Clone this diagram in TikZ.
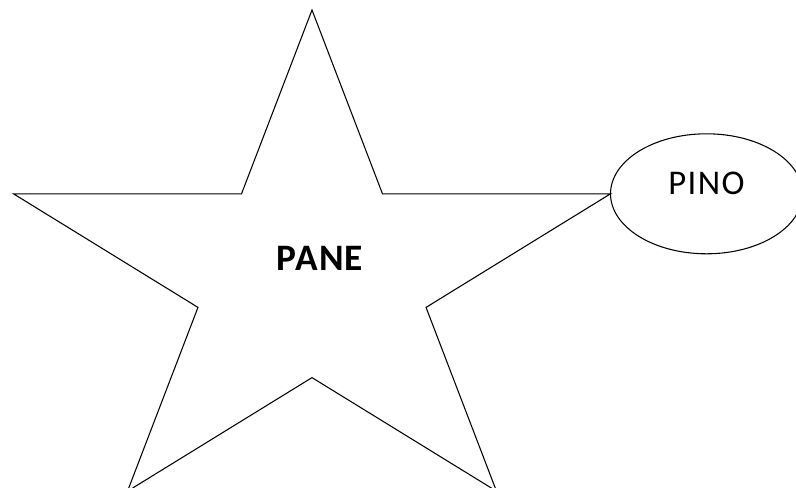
\documentclass[tikz,border=0pt]{standalone}
\usepackage{fontspec}
\setmainfont{Carlito}
\usetikzlibrary{shapes.geometric,positioning}

\begin{document}
\begin{tikzpicture}[x=0.75pt,y=-0.75pt]
\useasboundingbox (0,0) rectangle (796,488);
\tikzset{outline/.style={draw, line width=0.8pt, inner sep=0pt, outer sep=0pt}}

\node[star, star points=5, star point ratio=2.618, minimum size=399pt, xscale=1.18, outline] (pane) at (312,276) {};
\node[font=\bfseries\fontsize{28}{32}\selectfont\addfontfeature{LetterSpace=3}] (paneText) at ([shift={(8,-18)}]pane.center) {PANE};

\node[ellipse, minimum width=144pt, minimum height=90pt, anchor=west, outline] (pino) at (pane.outer point 5) {};
\node[font=\fontsize{26}{30}\selectfont\addfontfeature{LetterSpace=4}] (pinoText) at ([yshift=7.5pt]pino.center) {PINO};

\end{tikzpicture}
\end{document}
